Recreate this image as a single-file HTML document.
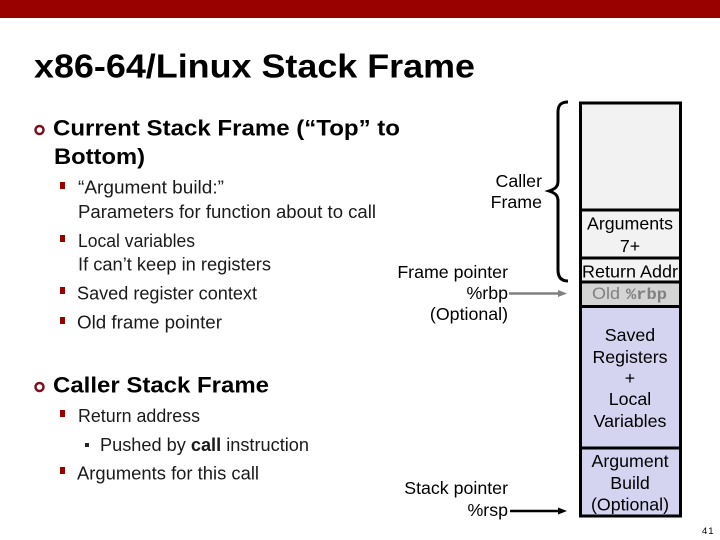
<!DOCTYPE html>
<html><head><meta charset="utf-8"><style>
html,body{margin:0;padding:0;background:#fff;width:720px;height:540px;overflow:hidden}
svg{display:block}
text{font-family:"Liberation Sans",sans-serif;fill:#000}
.b{font-size:18px;fill:#1a1a1a}
.h{font-size:22px;font-weight:bold}
.r{font-size:17.800px;text-anchor:end}
.c{font-size:17.800px;text-anchor:middle}
</style></head><body>
<svg width="720" height="540" viewBox="0 0 720 540" xmlns="http://www.w3.org/2000/svg">
<rect x="0" y="0" width="720" height="18" fill="#990000"/>
<text x="34" y="77.500" font-size="33" font-weight="bold" textLength="441" lengthAdjust="spacingAndGlyphs">x86-64/Linux Stack Frame</text>

<circle cx="39.500" cy="130" r="4" fill="none" stroke="#7a1020" stroke-width="2.500"/>
<text class="h" x="53" y="135.500" textLength="347" lengthAdjust="spacingAndGlyphs">Current Stack Frame (“Top” to</text>
<text class="h" x="54" y="164" textLength="91" lengthAdjust="spacingAndGlyphs">Bottom)</text>

<rect x="60" y="182" width="5" height="7" fill="#990000"/>
<text class="b" x="78" y="193.500" textLength="146" lengthAdjust="spacingAndGlyphs">“Argument build:”</text>
<text class="b" x="78" y="218" textLength="298" lengthAdjust="spacingAndGlyphs">Parameters for function about to call</text>
<rect x="60" y="235" width="5" height="7" fill="#990000"/>
<text class="b" x="78" y="247" textLength="117" lengthAdjust="spacingAndGlyphs">Local variables</text>
<text class="b" x="78" y="270.500" textLength="193" lengthAdjust="spacingAndGlyphs">If can’t keep in registers</text>
<rect x="60" y="287" width="5" height="7" fill="#990000"/>
<text class="b" x="77" y="299.500" textLength="180" lengthAdjust="spacingAndGlyphs">Saved register context</text>
<rect x="60" y="317" width="5" height="7" fill="#990000"/>
<text class="b" x="77" y="328.500" textLength="145" lengthAdjust="spacingAndGlyphs">Old frame pointer</text>

<circle cx="39.500" cy="387" r="4" fill="none" stroke="#7a1020" stroke-width="2.500"/>
<text class="h" x="53" y="392.500" textLength="216" lengthAdjust="spacingAndGlyphs">Caller Stack Frame</text>
<rect x="60" y="410" width="5" height="7" fill="#990000"/>
<text class="b" x="78" y="422" textLength="122" lengthAdjust="spacingAndGlyphs">Return address</text>
<rect x="85" y="443" width="4" height="4" fill="#222"/>
<text class="b" x="100" y="451" textLength="209" lengthAdjust="spacingAndGlyphs">Pushed by <tspan font-weight="bold">call</tspan> instruction</text>
<rect x="60" y="467" width="5" height="7" fill="#990000"/>
<text class="b" x="77" y="479.500" textLength="182" lengthAdjust="spacingAndGlyphs">Arguments for this call</text>

<text class="r" x="542" y="187">Caller</text>
<text class="r" x="542" y="208">Frame</text>
<text class="r" x="508" y="278">Frame pointer</text>
<text class="r" x="508" y="299">%rbp</text>
<text class="r" x="508" y="320">(Optional)</text>
<text class="r" x="508" y="494">Stack pointer</text>
<text class="r" x="508" y="516">%rsp</text>

<path d="M568 102 C561 102 558 105 558 112 L558 181 C558 187 555 189 549 191 C555 193 558 195 558 201 L558 270 C558 277 561 281 568 281" fill="none" stroke="#000" stroke-width="3"/>

<line x1="509" y1="293.500" x2="562" y2="293.500" stroke="#808080" stroke-width="2.500"/>
<path d="M558 290 L567 293.500 L558 297 Z" fill="#808080"/>
<line x1="510" y1="511" x2="562" y2="511" stroke="#000" stroke-width="2.500"/>
<path d="M558 507.500 L567 511 L558 514.500 Z" fill="#000"/>

<rect x="581" y="103" width="99" height="107" fill="#f2f2f2"/>
<rect x="581" y="210" width="99" height="48" fill="#f2f2f2"/>
<rect x="581" y="258" width="99" height="24" fill="#f2f2f2"/>
<rect x="581" y="282" width="99" height="24" fill="#d4d4d4"/>
<rect x="581" y="306" width="99" height="210" fill="#d4d4f0"/>
<g fill="none" stroke="#000" stroke-width="3">
<rect x="580.500" y="103" width="100" height="413"/>
<line x1="581" y1="210" x2="680" y2="210"/>
<line x1="581" y1="258" x2="680" y2="258"/>
<line x1="581" y1="282" x2="680" y2="282"/>
<line x1="581" y1="306.500" x2="680" y2="306.500"/>
<line x1="581" y1="448" x2="680" y2="448"/>
</g>

<text class="c" x="630" y="229.500">Arguments</text>
<text class="c" x="630" y="252">7+</text>
<text class="c" x="630" y="277.500" textLength="96" lengthAdjust="spacingAndGlyphs">Return Addr</text>
<text x="592" y="299" font-size="17" textLength="28" lengthAdjust="spacingAndGlyphs" style="fill:#808080">Old</text>
<text x="626" y="299" font-size="16" font-weight="bold" textLength="41" lengthAdjust="spacingAndGlyphs" style="font-family:'Liberation Mono',monospace;fill:#808080">%rbp</text>
<text class="c" x="630" y="341">Saved</text>
<text class="c" x="630" y="363">Registers</text>
<text class="c" x="630" y="384">+</text>
<text class="c" x="630" y="405">Local</text>
<text class="c" x="630" y="427">Variables</text>
<text class="c" x="630" y="467">Argument</text>
<text class="c" x="630" y="489">Build</text>
<text class="c" x="630" y="510.500">(Optional)</text>
<text x="702" y="534" font-size="9.500" letter-spacing="1">41</text>
</svg>
</body></html>
